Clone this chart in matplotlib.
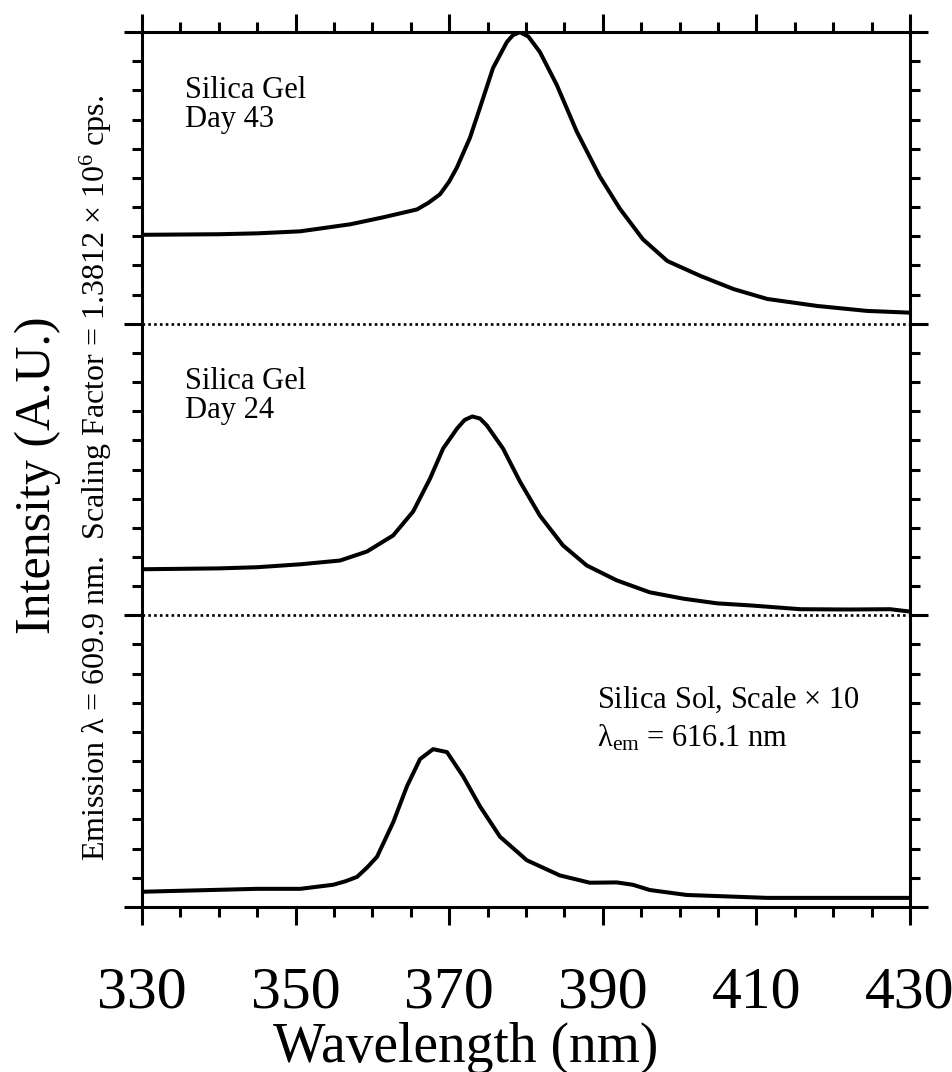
import numpy as np
import matplotlib
matplotlib.use("Agg")
import matplotlib.pyplot as plt
from matplotlib.ticker import MultipleLocator, FixedLocator

plt.rcParams['font.family'] = ['Liberation Serif', 'DejaVu Serif']
plt.rcParams['mathtext.fontset'] = 'custom'
plt.rcParams['mathtext.rm'] = 'Liberation Serif'
plt.rcParams['mathtext.it'] = 'Liberation Serif:italic'

# Silica Gel, day 43 (top panel, normalised to panel height)
top_nm = [330, 340, 345, 350.6, 357.1, 361.4, 365.8, 367.3, 368.8, 370.0, 371.0, 372.7, 374.0,
          375.7, 377.5, 378.3, 379.2, 380.3, 381.8, 384.0, 386.6, 389.6, 392.2, 395.2, 398.4,
          402.7, 407.0, 411.4, 417.9, 424.4, 430]
top_val = [0.305, 0.307, 0.31, 0.317, 0.341, 0.365, 0.392, 0.415, 0.444, 0.488, 0.536, 0.638, 0.741,
           0.877, 0.966, 0.99, 1.0, 0.985, 0.932, 0.819, 0.659, 0.505, 0.395, 0.29, 0.215,
           0.164, 0.119, 0.085, 0.061, 0.044, 0.038]

# Silica Gel, day 24 (middle panel)
mid_nm = [330, 340, 345, 350.6, 355.8, 359.3, 362.7, 365.3, 367.5, 369.2, 371.0, 372.0, 373.0,
          374.0, 374.9, 377.0, 379.2, 381.8, 384.8, 387.9, 391.8, 396.1, 400.5, 404.9, 409.2,
          415.7, 422.0, 427.4, 429.6]
mid_val = [0.158, 0.161, 0.165, 0.175, 0.188, 0.219, 0.274, 0.356, 0.469, 0.572, 0.640, 0.67, 0.682,
           0.675, 0.651, 0.572, 0.459, 0.342, 0.240, 0.171, 0.120, 0.079, 0.057, 0.041, 0.034,
           0.021, 0.020, 0.021, 0.014]

# Silica Sol, x10 (bottom panel)
bot_nm = [330, 345, 350.6, 354.9, 356.5, 358.0, 359.3, 360.6, 362.7, 364.5, 366.2, 367.9, 369.7,
          371.8, 374.0, 376.6, 380.1, 384.4, 388.3, 391.8, 393.9, 396.1, 400.9, 411.4, 430]
bot_val = [0.052, 0.062, 0.062, 0.076, 0.088, 0.103, 0.135, 0.172, 0.29, 0.414, 0.507, 0.541, 0.531,
           0.448, 0.345, 0.241, 0.16, 0.108, 0.083, 0.084, 0.076, 0.058, 0.041, 0.031, 0.031]

xticks = [330, 350, 370, 390, 410, 430]

fig = plt.figure(figsize=(9.53, 10.72), dpi=100)
ax = fig.add_axes([0.149, 0.154, 0.806, 0.816])

ax.plot(top_nm, np.array(top_val) + 2, color='black', lw=2.9, solid_joinstyle='round')
ax.plot(mid_nm, np.array(mid_val) + 1, color='black', lw=2.9, solid_joinstyle='round')
ax.plot(bot_nm, bot_val, color='black', lw=2.9, solid_joinstyle='round')

for yy in (1, 2):
    ax.axhline(yy, color='black', lw=1.9, ls=(0, (1, 1.2)))

ax.set_xlim(330, 430)
ax.set_ylim(0, 3)
ax.xaxis.set_major_locator(FixedLocator(xticks))
ax.xaxis.set_minor_locator(MultipleLocator(5))
ax.yaxis.set_major_locator(FixedLocator([0, 1, 2, 3]))
ax.yaxis.set_minor_locator(MultipleLocator(0.1))
ax.tick_params(which='both', direction='out', top=True, right=True, width=2.2,
               labelleft=False, labelsize=43, pad=30)
ax.tick_params(which='major', length=13)
ax.tick_params(which='minor', length=7)
for s in ax.spines.values():
    s.set_linewidth(2.2)

fig.text(0.489, 0.0225, 'Wavelength (nm)', fontsize=40, ha='center', va='center')

ax.text(335.6, 2.85, 'Silica Gel\nDay 43', fontsize=22, va='top', linespacing=1.0)
ax.text(335.6, 1.85, 'Silica Gel\nDay 24', fontsize=22, va='top', linespacing=1.0)
ax.text(389.2, 0.71, r'Silica Sol, Scale $\times$ 10', fontsize=22, va='center')
ax.text(389.2, 0.58, r'λ$_{\rm em}$ = 616.1 nm', fontsize=22, va='center')

fig.text(0.040, 0.557, 'Intensity (A.U.)', fontsize=36, rotation=90, ha='center', va='center')
fig.text(0.101, 0.554, r'Emission λ = 609.9 nm.  Scaling Factor = 1.3812 $\times$ 10$^{6}$ cps.',
         fontsize=23, rotation=90, ha='center', va='center')

fig.savefig('out.png', dpi=100)
